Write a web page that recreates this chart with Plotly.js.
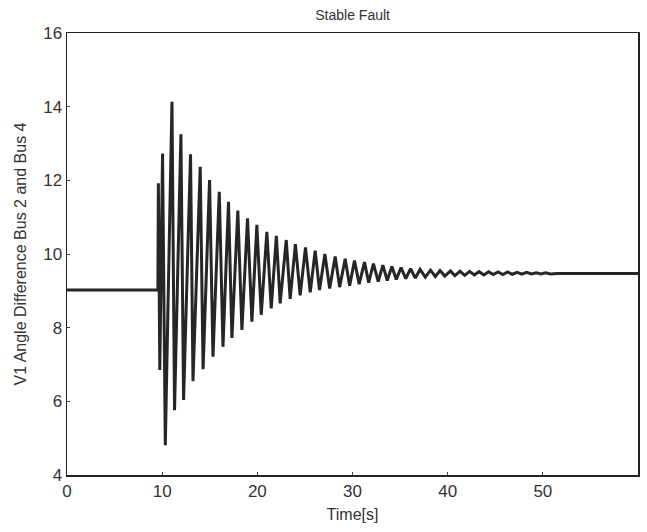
<!DOCTYPE html>
<html>
<head>
<meta charset="utf-8">
<script src="https://cdn.plot.ly/plotly-3.0.1.min.js"></script>
<style>html,body{margin:0;padding:0;background:#fff;}#chart{width:647px;height:532px;}</style>
</head>
<body>
<div id="chart"></div>
<script>
// Pre-fault steady state
const preTime = [0, 9.55];
const preVal = [9.02, 9.02];
// Oscillation peaks
const peakTimes = [9.6, 10.04, 11.03, 11.97, 12.98, 14.0, 14.98, 16.0, 16.97, 17.95,
  18.97, 19.95, 21.0, 22.0, 23.04, 24.0, 25.06, 26.08, 27.1, 28.18,
  29.23, 30.21, 31.26, 32.2, 33.19, 34.14, 35.1, 36.1, 37.1, 38.2,
  39.2, 40.3, 41.3, 42.3, 43.3, 44.3, 45.3, 46.3, 47.3, 48.3, 49.3, 50.3];
const peakVals = [11.92, 12.73, 14.13, 13.25, 12.71, 12.37, 12.01, 11.69, 11.42, 11.18,
  10.97, 10.79, 10.60, 10.49, 10.38, 10.27, 10.18, 10.09, 10.00, 9.93,
  9.87, 9.82, 9.78, 9.74, 9.70, 9.66, 9.63, 9.60, 9.58, 9.56,
  9.55, 9.54, 9.53, 9.53, 9.52, 9.52, 9.51, 9.51, 9.50, 9.50, 9.49, 9.49];
// Oscillation troughs
const troughTimes = [9.75, 10.33, 11.3, 12.25, 13.24, 14.3, 15.34, 16.39, 17.33, 18.38,
  19.43, 20.41, 21.46, 22.4, 23.45, 24.5, 25.56, 26.53, 27.6, 28.65,
  29.7, 30.7, 31.7, 32.7, 33.65, 34.6, 35.6, 36.6, 37.65, 38.7,
  39.7, 40.75, 41.8, 42.8, 43.8, 44.8, 45.8, 46.8, 47.8, 48.8, 49.8, 50.8];
const troughVals = [6.85, 4.81, 5.76, 6.04, 6.55, 6.87, 7.21, 7.48, 7.72, 7.94,
  8.16, 8.35, 8.52, 8.66, 8.78, 8.88, 8.96, 9.02, 9.06, 9.10,
  9.14, 9.18, 9.22, 9.25, 9.28, 9.31, 9.33, 9.35, 9.37, 9.39,
  9.40, 9.41, 9.42, 9.43, 9.43, 9.44, 9.44, 9.45, 9.45, 9.46, 9.46, 9.46];
// Post-fault steady state
const postTime = [51.5, 60];
const postVal = [9.47, 9.47];

const xTicks = [0, 10, 20, 30, 40, 50, 60];
const yTicks = [4, 6, 8, 10, 12, 14, 16];

const xs = [...preTime], ys = [...preVal];
for (let i = 0; i < peakTimes.length; i++) {
  xs.push(peakTimes[i]); ys.push(peakVals[i]);
  xs.push(troughTimes[i]); ys.push(troughVals[i]);
}
xs.push(...postTime); ys.push(...postVal);

const fontFam = 'Liberation Sans, Arial, sans-serif';

Plotly.newPlot('chart', [{
  x: xs, y: ys, type: 'scatter', mode: 'lines',
  line: {color: '#262626', width: 3},
  hoverinfo: 'skip'
}], {
  width: 647, height: 532,
  margin: {l: 67, r: 9, t: 33, b: 57},
  paper_bgcolor: '#fff', plot_bgcolor: '#fff',
  showlegend: false,
  title: {text: 'Stable Fault', font: {family: fontFam, size: 14, color: '#333'}, x: 0.545, xanchor: 'center', y: 0.972, yanchor: 'middle'},
  xaxis: {
    range: [0, 60], tickvals: xTicks, ticktext: xTicks.map(String),
    showgrid: false, zeroline: false,
    showline: true, mirror: true, linecolor: '#222', linewidth: 1.5,
    ticks: 'inside', ticklen: 3, tickcolor: '#444',
    tickfont: {family: fontFam, size: 17, color: '#333'},
    title: {text: 'Time[s]', font: {family: fontFam, size: 16, color: '#333'}, standoff: 9}
  },
  yaxis: {
    range: [4, 16], tickvals: yTicks, ticktext: yTicks.map(String),
    showgrid: false, zeroline: false,
    showline: true, mirror: true, linecolor: '#222', linewidth: 1.5,
    ticks: 'inside', ticklen: 3, tickcolor: '#444',
    tickfont: {family: fontFam, size: 17, color: '#333'},
    title: {text: 'V1 Angle Difference Bus 2 and Bus 4', font: {family: fontFam, size: 16, color: '#333'}, standoff: 12}
  }
}, {staticPlot: true, displayModeBar: false});
</script>
</body>
</html>
